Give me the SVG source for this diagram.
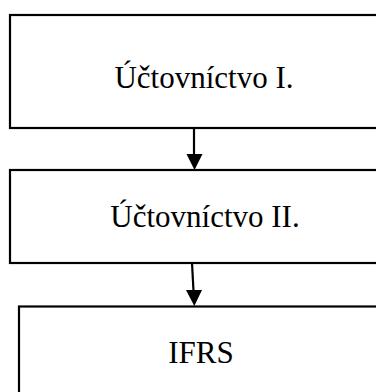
<svg xmlns="http://www.w3.org/2000/svg" width="376" height="392" viewBox="0 0 376 392">
<style>
.box{fill:#fff;stroke:#000;stroke-width:2.2}
.lbl{font-family:"Liberation Serif","Times New Roman",serif;font-size:31px;fill:#000;text-anchor:middle}
.con{stroke:#000;stroke-width:2.2;fill:none}
</style>
<rect width="376" height="392" fill="#fff"/>
<g id="n1"><rect class="box" x="10" y="15" width="380" height="113"/><text class="lbl" x="204" y="87.5">Účtovníctvo I.</text></g>
<g id="n2"><rect class="box" x="10" y="170" width="380" height="93"/><text class="lbl" x="205" y="227">Účtovníctvo II.</text></g>
<g id="n3"><rect class="box" x="19" y="306.5" width="380" height="100"/><text class="lbl" x="201" y="363">IFRS</text></g>
<g id="connectors">
<line class="con" x1="194" y1="128" x2="194" y2="155"/>
<path d="M186.5,154 L202.5,154 L194.5,170 Z" fill="#000"/>
<line class="con" x1="192" y1="263" x2="193.5" y2="291"/>
<path d="M186,290 L202,290 L194.3,306 Z" fill="#000"/>
</g>
</svg>
